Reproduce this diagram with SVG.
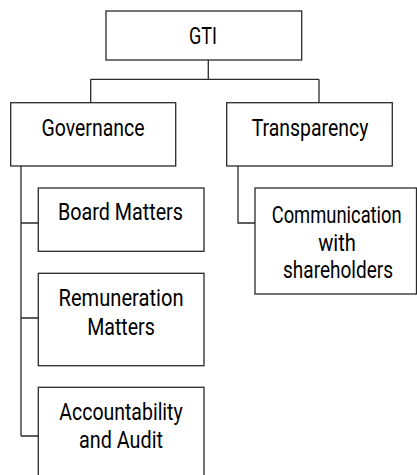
<svg xmlns="http://www.w3.org/2000/svg" width="417" height="475" viewBox="0 0 417 475">
<style>
.box{fill:#fff;stroke:#2a2a2a;stroke-width:1.3}
.con{fill:none;stroke:#2a2a2a;stroke-width:1.3}
text{font-family:Roboto,"Liberation Sans",sans-serif;font-size:24px;fill:#000;text-anchor:middle}
</style>
<rect width="417" height="475" fill="#fff"/>
<g id="connectors">
<path class="con" d="M208.3 60 V79.3 M90.7 79.3 H319 M90.7 79.3 V102.7 M319 79.3 V102.7"/>
<path class="con" d="M21 166 V436 M21 223 H38.3 M21 318 H38.3 M21 436 H38.3"/>
<path class="con" d="M238 166 V223 H255"/>
</g>
<g id="gti">
<rect class="box" x="106" y="11" width="195.7" height="49"/>
<text x="203" y="44" textLength="28" lengthAdjust="spacingAndGlyphs">GTI</text>
</g>
<g id="governance">
<rect class="box" x="10.7" y="102.7" width="165" height="63.3"/>
<text x="93" y="136" textLength="103" lengthAdjust="spacingAndGlyphs">Governance</text>
</g>
<g id="transparency">
<rect class="box" x="226.7" y="102.7" width="165.6" height="63.3"/>
<text x="310" y="136" textLength="116.7" lengthAdjust="spacingAndGlyphs">Transparency</text>
</g>
<g id="board">
<rect class="box" x="38.3" y="188" width="165.7" height="63.3"/>
<text x="120.5" y="220" textLength="125" lengthAdjust="spacingAndGlyphs">Board Matters</text>
</g>
<g id="remuneration">
<rect class="box" x="38.3" y="273.3" width="165.7" height="92.4"/>
<text x="121" y="306" textLength="125" lengthAdjust="spacingAndGlyphs">Remuneration</text>
<text x="121" y="335" textLength="67.7" lengthAdjust="spacingAndGlyphs">Matters</text>
</g>
<g id="accountability">
<rect class="box" x="38.3" y="387.3" width="165.7" height="100"/>
<text x="121" y="420" textLength="123.4" lengthAdjust="spacingAndGlyphs">Accountability</text>
<text x="121" y="448" textLength="84" lengthAdjust="spacingAndGlyphs">and Audit</text>
</g>
<g id="communication">
<rect class="box" x="255" y="188" width="161.5" height="106"/>
<text x="336.7" y="222.7" textLength="130" lengthAdjust="spacingAndGlyphs">Communication</text>
<text x="337" y="250.7" textLength="37.7" lengthAdjust="spacingAndGlyphs">with</text>
<text x="338" y="278.3" textLength="110" lengthAdjust="spacingAndGlyphs">shareholders</text>
</g>
</svg>
